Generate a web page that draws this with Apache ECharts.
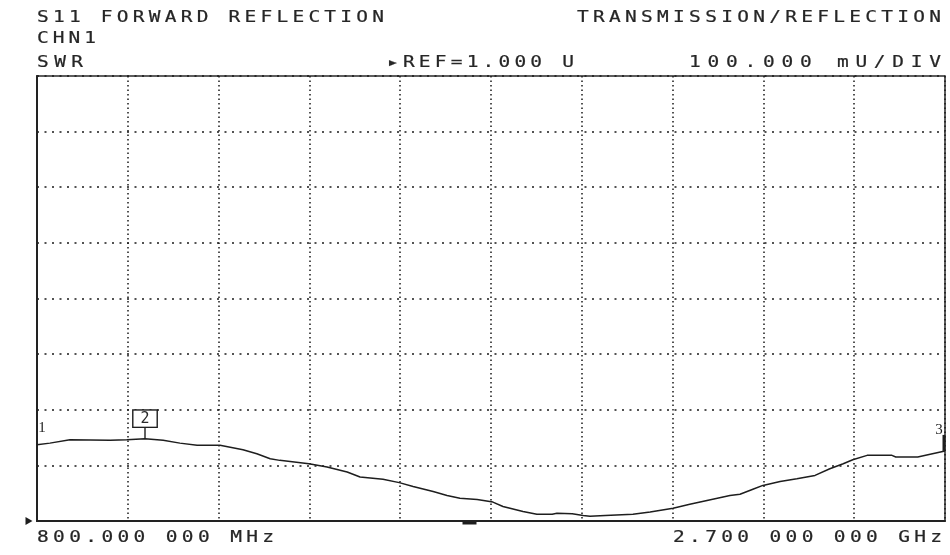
<!DOCTYPE html>
<html>
<head>
<meta charset="utf-8">
<script src="https://cdn.jsdelivr.net/npm/echarts@6/dist/echarts.min.js"></script>
<style>
  html, body { margin: 0; padding: 0; background: #ffffff; }
  #wrap { position: relative; width: 950px; height: 555px; overflow: hidden; }
  #chart { position: absolute; left: 0; top: 0; width: 950px; height: 555px; }
  .t { position: absolute; white-space: pre; font-family: "DejaVu Sans Mono", monospace; font-size: 15px; line-height: 15px;
       color: #262626; -webkit-text-stroke: 0.2px #262626; transform-origin: 0 0; }
</style>
</head>
<body>
<div id="wrap">
  <div id="chart"></div>
</div>
<script>
// ---- data ----
const freqMHz = [800, 827, 869, 953, 988, 1026, 1064, 1099, 1135, 1183, 1231, 1260, 1288, 1308, 1369,
  1407, 1449, 1476, 1524, 1558, 1587, 1629, 1658, 1685, 1721, 1754, 1775, 1817, 1846, 1878,
  1888, 1920, 1943, 1957, 1989, 2047, 2083, 2131, 2166, 2202, 2250, 2271, 2298, 2319, 2355,
  2390, 2428, 2459, 2487, 2507, 2537, 2589, 2597, 2643, 2669, 2700];
const swr = [1.137, 1.140, 1.146, 1.145, 1.146, 1.148, 1.145, 1.140, 1.136, 1.136, 1.128, 1.121, 1.112, 1.109, 1.103,
  1.097, 1.088, 1.079, 1.075, 1.069, 1.062, 1.053, 1.046, 1.041, 1.0385, 1.034, 1.026, 1.017, 1.012, 1.012,
  1.014, 1.013, 1.010, 1.0085, 1.010, 1.012, 1.016, 1.023, 1.030, 1.037, 1.046, 1.048, 1.057, 1.064, 1.071,
  1.076, 1.082, 1.094, 1.103, 1.110, 1.118, 1.118, 1.115, 1.115, 1.120, 1.126];
const startFreq = 800, stopFreq = 2700;      // MHz
const refValue = 1.0, topValue = 1.8, perDiv = 0.1; // U
const xDivisions = 10;
const markerFreqs = [800, 1026, 2700];
const markerNames = ['1', '2', '3'];
const stimulusFreq = 1705;

const titleLeft = 'S11 FORWARD REFLECTION';
const titleRight = 'TRANSMISSION/REFLECTION';
const channelText = 'CHN1';
const formatText = 'SWR';
const refText = '\u25B8REF=1.000 U';
const scaleText = '100.000 mU/DIV';
const startLabel = '800.000 000 MHz';
const stopLabel = '2.700 000 000 GHz';

// ---- chart ----
const chart = echarts.init(document.getElementById('chart'), null, { renderer: 'canvas' });
const lineData = freqMHz.map((f, i) => [f, swr[i]]);
function valueAt(f) {
  const i = freqMHz.indexOf(f);
  return swr[i];
}
const ink = '#1e1e1e';
const monoFont = '"DejaVu Sans Mono", monospace';

const markData = [
  { name: 'm1', coord: [markerFreqs[0], valueAt(markerFreqs[0])], symbol: 'rect', symbolSize: 1,
    itemStyle: { color: 'rgba(0,0,0,0)' },
    label: { show: true, formatter: markerNames[0], position: 'inside', offset: [5, -17],
      fontFamily: 'Liberation Serif', fontSize: 15, color: ink } },
  { name: 'm2', coord: [markerFreqs[1], valueAt(markerFreqs[1])], symbol: 'rect', symbolSize: [1.4, 12],
    symbolOffset: [0, -6], itemStyle: { color: ink },
    label: { show: true, formatter: markerNames[1], position: 'top', distance: 0,
      fontFamily: monoFont, fontSize: 15, color: '#2a2a2a', borderColor: ink, borderWidth: 1.4,
      backgroundColor: '#fff', padding: [1, 7, 0, 7], lineHeight: 15 } },
  { name: 'm3', coord: [markerFreqs[2], valueAt(markerFreqs[2])], symbol: 'rect', symbolSize: [3, 16],
    symbolOffset: [-1, -8], itemStyle: { color: ink },
    label: { show: true, formatter: markerNames[2], position: 'inside', offset: [-5, -13],
      fontFamily: 'Liberation Serif', fontSize: 15, color: ink } },
  { name: 'ref', coord: [startFreq, refValue], symbol: 'triangle', symbolSize: [8, 7], symbolRotate: -90,
    symbolOffset: [-8, 0], itemStyle: { color: ink }, label: { show: false } },
  { name: 'stim', coord: [stimulusFreq, refValue], symbol: 'rect', symbolSize: [14, 3],
    symbolOffset: [0, 2], itemStyle: { color: ink }, label: { show: false } }
];

const option = {
  animation: false,
  backgroundColor: '#ffffff',
  grid: { left: 37, top: 76, right: 5, bottom: 34, show: true, borderColor: '#2a2a2a', borderWidth: 1.5,
    backgroundColor: 'transparent', containLabel: false },
  xAxis: [
    { type: 'value', min: startFreq, max: stopFreq, show: true,
      axisLine: { show: true, onZero: false, lineStyle: { color: '#222', width: 2 } },
      axisTick: { show: false }, axisLabel: { show: false }, splitLine: { show: false } },
    { type: 'value', min: 0, max: xDivisions, interval: 1, position: 'bottom',
      axisLine: { show: false }, axisTick: { show: false }, axisLabel: { show: false },
      splitLine: { show: true, lineStyle: { color: '#1a1a1a', width: 1.5, type: [1.5, 3] } } }
  ],
  yAxis: [
    { type: 'value', min: refValue, max: topValue, interval: perDiv,
      axisLine: { show: true, onZero: false, lineStyle: { color: '#222', width: 2 } },
      axisTick: { show: false }, axisLabel: { show: false },
      splitLine: { show: true, lineStyle: { color: '#1a1a1a', width: 1.5, type: [2, 5.5] } } }
  ],
  series: [
    { type: 'line', xAxisIndex: 0, yAxisIndex: 0, data: lineData, symbol: 'none', smooth: false,
      lineStyle: { color: ink, width: 1.5 }, clip: false,
      markPoint: { silent: true, animation: false, data: markData } }
  ]
};
chart.setOption(option);

// ---- header / footer annotation text (letter-spaced, widened like the instrument font) ----
const wrap = document.getElementById('wrap');
const SX = 1.3;
function place(text, left, right, capTop) {
  const el = document.createElement('div');
  el.className = 't';
  el.textContent = text;
  el.style.left = left + 'px';
  el.style.top = (capTop - 2) + 'px';
  wrap.appendChild(el);
  const n = [...text].length;
  const natural = el.getBoundingClientRect().width;
  const ls = ((right - left) / SX - natural) / (n - 1);
  el.style.letterSpacing = ls.toFixed(2) + 'px';
  el.style.transform = 'scaleX(' + SX + ')';
}
place(titleLeft, 37, 384, 12);
place(titleRight, 577, 941, 12);
place(channelText, 37, 96, 33);
place(formatText, 37, 83, 57);
place(refText, 387, 574, 57);
place(scaleText, 689, 941, 57);
place(startLabel, 37, 274, 532);
place(stopLabel, 673, 942, 532);
</script>
</body>
</html>
